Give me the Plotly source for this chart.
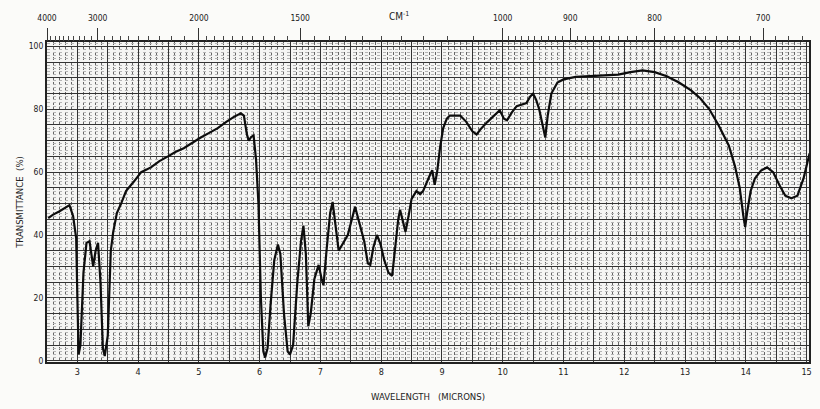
import plotly.graph_objects as go

# Spectrum (wavelength in microns, transmittance %)
wavelength = [2.52, 2.60, 2.70, 2.80, 2.87, 2.93, 2.98, 3.00, 3.02, 3.05, 3.10, 3.15, 3.20, 3.26, 3.30,
              3.34, 3.38, 3.42, 3.45, 3.50, 3.55, 3.59, 3.65, 3.72, 3.80, 3.93, 4.05, 4.21, 4.35, 4.49,
              4.62, 4.75, 4.90, 5.03, 5.17, 5.31, 5.45, 5.57, 5.69, 5.74, 5.79, 5.82, 5.86, 5.90, 5.94,
              5.98, 6.02, 6.06, 6.09, 6.13, 6.18, 6.24, 6.30, 6.34, 6.40, 6.46, 6.50, 6.55, 6.62, 6.68,
              6.72, 6.76, 6.80, 6.84, 6.90, 6.97, 7.02, 7.05, 7.10, 7.16, 7.20, 7.25, 7.30, 7.36, 7.45,
              7.57, 7.65, 7.72, 7.78, 7.82, 7.87, 7.93, 7.99, 8.05, 8.12, 8.18, 8.23, 8.28, 8.31, 8.36,
              8.40, 8.45, 8.50, 8.58, 8.64, 8.69, 8.75, 8.80, 8.84, 8.88, 8.92, 8.97, 9.02, 9.08, 9.13,
              9.30, 9.40, 9.50, 9.57, 9.65, 9.75, 9.85, 9.95, 10.02, 10.07, 10.15, 10.23, 10.39, 10.45,
              10.50, 10.55, 10.60, 10.65, 10.70, 10.74, 10.80, 10.90, 11.00, 11.20, 11.50, 11.90, 12.10,
              12.30, 12.50, 12.70, 12.90, 13.10, 13.25, 13.40, 13.55, 13.72, 13.82, 13.90, 13.96, 13.99,
              14.02, 14.08, 14.15, 14.25, 14.35, 14.45, 14.55, 14.65, 14.75, 14.85, 14.95, 15.05]
transmittance = [45.4, 46.5, 47.5, 48.8, 49.5, 46, 39, 20, 2, 5, 28, 37.5, 38, 30, 35,
                 37.5, 25, 4, 1.5, 8, 35, 41, 47, 50, 54, 57, 60, 61.5, 63.5, 65,
                 66.5, 67.6, 69.5, 71, 72.5, 74, 76, 77.5, 78.7, 78, 72, 70, 71.2, 71.7, 64,
                 50, 20, 3, 1, 4, 18, 32, 37, 34, 15, 3, 2, 5, 25, 38,
                 43, 34, 11, 15, 26, 30.5, 26, 24, 35, 47, 50.5, 42, 35, 37, 40,
                 49, 43, 38, 31, 30.5, 36, 40, 37, 32, 28, 27, 36, 45, 48, 44,
                 41, 46, 51.5, 54, 53, 54, 57, 59, 60.6, 56, 60, 68, 74, 77, 78,
                 78, 76, 73, 72, 74, 76, 78, 79.7, 77, 76.5, 79, 81, 82, 84,
                 85, 83, 80, 76, 71, 78, 85, 88.5, 89.5, 90.3, 90.5, 91, 91.8,
                 92.4, 91.8, 90.5, 88.5, 86, 83.5, 80, 75, 68.5, 62, 55, 46, 42.5,
                 47, 54, 58, 60.5, 61.5, 60, 56, 52.5, 51.7, 52.5, 58, 66]

micron_ticks = [3, 4, 5, 6, 7, 8, 9, 10, 11, 12, 13, 14, 15]
percent_ticks = [0, 20, 40, 60, 80, 100]
wavenumber_labels = [4000, 3000, 2000, 1500, 1000, 900, 800, 700]
wavenumber_minor = ([w for w in range(4000, 2000, -100)] + [w for w in range(2000, 1000, -50)]
                    + [w for w in range(1000, 660, -10)])

X_RANGE = [2.5, 15.04]
Y_RANGE = [-0.4, 101.4]
font_fam = "DejaVu Sans Condensed, Liberation Sans Narrow, DejaVu Sans, sans-serif"

# grid every 0.5 micron / 5 %, labels only on the listed ticks
x_grid = [i / 2 for i in range(5, 31)]
x_text = [str(int(v)) if v in micron_ticks else "" for v in x_grid]
y_grid = list(range(0, 101, 5))
y_text = [str(v) if v in percent_ticks else "" for v in y_grid]

fig = go.Figure()
fig.add_trace(go.Scatter(x=wavelength, y=transmittance, mode="lines",
                         line=dict(color="#0d0d0d", width=2.2), showlegend=False,
                         hoverinfo="skip"))
fig.add_trace(go.Scatter(x=[X_RANGE[0]], y=[Y_RANGE[0]], xaxis="x2", yaxis="y", mode="markers",
                         marker=dict(opacity=0), showlegend=False, hoverinfo="skip"))

fig.update_layout(
    width=820, height=409,
    margin=dict(l=47, r=8, t=42, b=47),
    paper_bgcolor="#fbfbf9", plot_bgcolor="#f5f5f3",
    font=dict(family=font_fam, color="#222", size=9),
    xaxis=dict(range=X_RANGE, tickmode="array", tickvals=x_grid, ticktext=x_text, ticks="",
               showline=True, mirror=True, linecolor="#222", linewidth=2,
               tickfont=dict(size=9, family=font_fam, color="#1a1a1a"),
               showgrid=True, gridcolor="#333", gridwidth=1.3,
               minor=dict(dtick=0.1, tick0=2.5, showgrid=True, ticks="",
                          gridcolor="#666", gridwidth=1.0, griddash="3px,2px"),
               zeroline=False,
               title=dict(text="WAVELENGTH&nbsp;&nbsp;&nbsp;(MICRONS)", font=dict(size=9.5), standoff=18)),
    yaxis=dict(range=Y_RANGE, tickmode="array", tickvals=y_grid, ticktext=y_text, ticks="",
               showline=True, mirror=True, linecolor="#222", linewidth=2, zeroline=False,
               tickfont=dict(size=8.5, family=font_fam, color="#1a1a1a"),
               showgrid=True, gridcolor="#333", gridwidth=1.3,
               minor=dict(dtick=1, tick0=0, showgrid=True, ticks="",
                          gridcolor="#b5b5b5", gridwidth=0.6, griddash="dot"),
               title=dict(text="TRANSMITTANCE&nbsp;&nbsp;(%)", font=dict(size=9.5), standoff=3)),
    xaxis2=dict(range=X_RANGE, overlaying="x", side="top", anchor="y",
                tickvals=[10000 / w for w in wavenumber_labels],
                ticktext=[str(w) for w in wavenumber_labels],
                ticks="outside", ticklen=13, tickwidth=1.3, tickcolor="#333",
                ticklabelstandoff=4,
                tickfont=dict(size=8.5, family=font_fam, color="#1a1a1a"),
                showline=False, showgrid=False,
                minor=dict(tickvals=[10000 / w for w in wavenumber_minor], ticks="outside",
                           ticklen=5, tickwidth=1, tickcolor="#444", showgrid=False),
                zeroline=False),
)

fig.add_annotation(text="CM<sup>-1</sup>", xref="paper", yref="paper",
                   x=(400 - 47) / (820 - 55), y=1 + (42 - 16) / (409 - 89),
                   xanchor="center", yanchor="middle", showarrow=False,
                   font=dict(size=10, family=font_fam, color="#222"))

fig.write_html("out.html")
